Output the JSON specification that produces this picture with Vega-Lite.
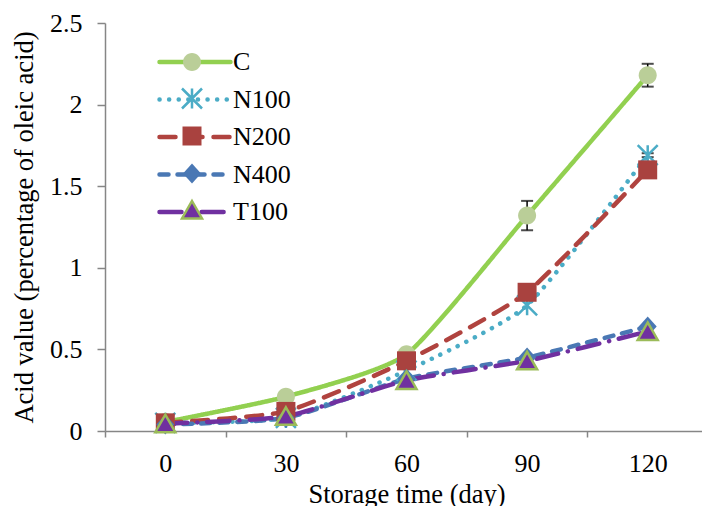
{
  "$schema": "https://vega.github.io/schema/vega-lite/v6.json",
  "width": 597,
  "height": 408,
  "autosize": {"type": "none"},
  "padding": {"left": 105, "top": 23, "right": 0, "bottom": 75},
  "background": "white",
  "config": {
    "view": {"stroke": null},
    "font": "Liberation Serif, Times New Roman, serif",
    "axis": {
      "labelFont": "Liberation Serif, Times New Roman, serif",
      "labelFontSize": 26,
      "labelColor": "black",
      "titleFont": "Liberation Serif, Times New Roman, serif",
      "titleFontSize": 26.5,
      "titleFontWeight": "normal",
      "titleColor": "black",
      "domainColor": "#868686",
      "domainWidth": 1.5,
      "tickColor": "#868686",
      "tickWidth": 1.5,
      "grid": false
    },
    "legend": {
      "labelFont": "Liberation Serif, Times New Roman, serif",
      "labelFontSize": 26,
      "labelColor": "black",
      "padding": 0
    }
  },
  "data": {
    "values": [
      {"day": 0, "series": "C", "value": 0.055, "err": 0},
      {"day": 30, "series": "C", "value": 0.21, "err": 0},
      {"day": 60, "series": "C", "value": 0.47, "err": 0},
      {"day": 90, "series": "C", "value": 1.32, "err": 0.09},
      {"day": 120, "series": "C", "value": 2.18, "err": 0.07},
      {"day": 0, "series": "N100", "value": 0.05, "err": 0},
      {"day": 30, "series": "N100", "value": 0.08, "err": 0},
      {"day": 60, "series": "N100", "value": 0.37, "err": 0},
      {"day": 90, "series": "N100", "value": 0.77, "err": 0},
      {"day": 120, "series": "N100", "value": 1.69, "err": 0.012},
      {"day": 0, "series": "N200", "value": 0.05, "err": 0},
      {"day": 30, "series": "N200", "value": 0.12, "err": 0},
      {"day": 60, "series": "N200", "value": 0.43, "err": 0},
      {"day": 90, "series": "N200", "value": 0.85, "err": 0},
      {"day": 120, "series": "N200", "value": 1.6, "err": 0},
      {"day": 0, "series": "N400", "value": 0.04, "err": 0},
      {"day": 30, "series": "N400", "value": 0.08, "err": 0},
      {"day": 60, "series": "N400", "value": 0.32, "err": 0},
      {"day": 90, "series": "N400", "value": 0.45, "err": 0},
      {"day": 120, "series": "N400", "value": 0.64, "err": 0},
      {"day": 0, "series": "T100", "value": 0.045, "err": 0},
      {"day": 30, "series": "T100", "value": 0.09, "err": 0},
      {"day": 60, "series": "T100", "value": 0.31, "err": 0},
      {"day": 90, "series": "T100", "value": 0.43, "err": 0},
      {"day": 120, "series": "T100", "value": 0.61, "err": 0}
    ]
  },
  "encoding": {
    "x": {
      "field": "day",
      "type": "ordinal",
      "bandPosition": 0.5,
      "scale": {"type": "band", "range": [0, 603], "paddingInner": 0, "paddingOuter": 0},
      "axis": {
        "title": "Storage time (day)",
        "labelAngle": 0,
        "tickBand": "extent",
        "tickSize": 6,
        "labelPadding": 13,
        "titlePadding": 5
      }
    },
    "y": {
      "field": "value",
      "type": "quantitative",
      "scale": {"domain": [0, 2.5], "nice": false, "zero": true},
      "axis": {
        "title": "Acid value (percentage of oleic acid)",
        "values": [0, 0.5, 1, 1.5, 2, 2.5],
        "format": "~g",
        "tickSize": 8,
        "labelPadding": 15,
        "titlePadding": 11
      }
    }
  },
  "layer": [
    {
      "mark": {"type": "line", "interpolate": "cardinal", "tension": 0.45, "strokeWidth": 4.5, "strokeCap": "round"},
      "encoding": {
        "color": {
          "field": "series",
          "type": "nominal",
          "scale": {
            "range": ["#92D050", "#4BACC6", "#B0433F", "#4A78B4", "#7030A0"]
          },
          "legend": {
            "title": null,
            "orient": "none",
            "legendX": 77,
            "legendY": 26,
            "rowPadding": 11.5,
            "symbolType": "M-7.1,0H7.1",
            "symbolSize": 100,
            "symbolStrokeWidth": 4.5,
            "labelOffset": 25,
            "encode": {"symbols": {"update": {"strokeCap": {"value": "round"}}}}
          }
        },
        "strokeDash": {
          "field": "series",
          "type": "nominal",
          "scale": {
            "range": [[1, 0], [0.1, 9.5], [16, 11], [9, 9], [22, 10, 0.1, 10]]
          }
        }
      }
    },
    {
      "transform": [{"filter": "datum.err > 0"}],
      "mark": {
        "type": "errorbar",
        "color": "black",
        "ticks": {"size": 12, "thickness": 2, "color": "black"},
        "rule": {"strokeWidth": 1.5, "color": "black"}
      },
      "encoding": {
        "yError": {"field": "err"}
      }
    },
    {
      "mark": {"type": "point", "filled": false, "opacity": 1, "strokeWidth": 2.5, "size": 400},
      "encoding": {
        "shape": {
          "field": "series",
          "type": "nominal",
          "scale": {
            "domain": ["C", "N100", "N200", "N400", "T100"],
            "range": [
              "M0.9,0A0.9,0.9 0 1,1 -0.9,0A0.9,0.9 0 1,1 0.9,0Z",
              "M0,-1V1M-1,-1L1,1M-1,1L1,-1",
              "M-0.95,-0.95H0.95V0.95H-0.95Z",
              "M0,-1L0.9,0L0,1L-0.9,0Z",
              "M0,-0.9L1,0.85H-1Z"
            ]
          },
          "legend": {
            "title": null,
            "orient": "none",
            "legendX": 74,
            "legendY": 26,
            "rowPadding": 7.5,
            "symbolSize": 400,
            "symbolStrokeWidth": 2.5,
            "labelColor": "transparent"
          }
        },
        "fill": {
          "field": "series",
          "type": "nominal",
          "scale": {
            "domain": ["C", "N100", "N200", "N400", "T100"],
            "range": ["#BACE98", "transparent", "#A9423F", "#4A78B4", "#7030A0"]
          },
          "legend": null
        },
        "stroke": {
          "field": "series",
          "type": "nominal",
          "scale": {
            "domain": ["C", "N100", "N200", "N400", "T100"],
            "range": ["transparent", "#4BACC6", "transparent", "transparent", "#9BBB59"]
          },
          "legend": null
        }
      }
    }
  ]
}
